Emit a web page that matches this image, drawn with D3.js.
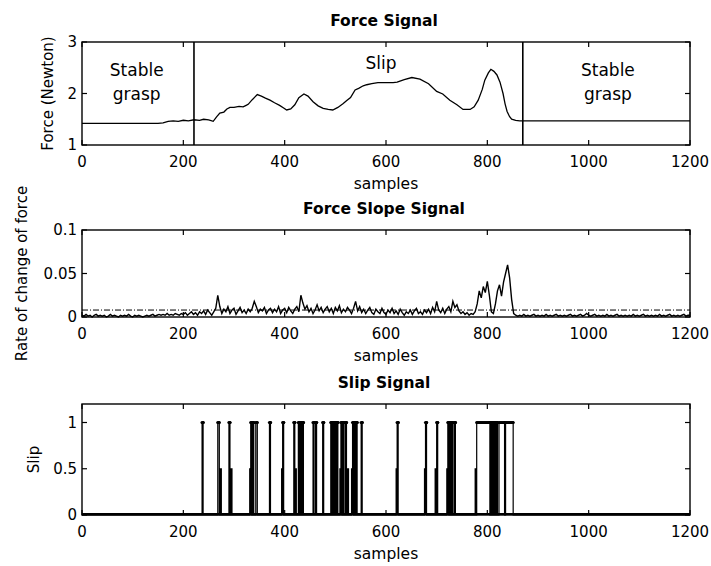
<!DOCTYPE html>
<html>
<head>
<meta charset="utf-8">
<script src="https://cdn.jsdelivr.net/npm/d3@7"></script>
<style>
  html, body { margin: 0; padding: 0; background: #fff; }
  svg { display: block; }
  text { font-family: "DejaVu Sans", sans-serif; fill: #000; }
</style>
</head>
<body>
<svg id="chart" width="711" height="566"></svg>
<script>
// ---- data ----
const xTicks = [0, 200, 400, 600, 800, 1000, 1200];

// grip force (N) against sample index
const forceSamples = [0, 100, 150, 160, 170, 180, 190, 200, 210, 221, 232, 240, 250, 259, 266, 272, 280, 286, 292, 300, 310, 318, 324, 328, 336, 346, 354, 362, 371, 380, 390, 398, 404, 412, 420, 428, 438, 446, 456, 466, 476, 486, 495, 505, 515, 522, 530, 539, 546, 555, 562, 572, 584, 600, 614, 622, 636, 651, 667, 684, 700, 712, 726, 740, 752, 766, 774, 782, 790, 795, 802, 807, 813, 819, 825, 831, 835, 839, 844, 848, 856, 864, 900, 1000, 1100, 1200];
const forceValues  = [1.42, 1.42, 1.42, 1.43, 1.46, 1.47, 1.46, 1.48, 1.47, 1.49, 1.48, 1.50, 1.49, 1.46, 1.55, 1.62, 1.64, 1.70, 1.73, 1.73, 1.75, 1.74, 1.77, 1.79, 1.88, 1.98, 1.95, 1.91, 1.87, 1.82, 1.77, 1.72, 1.68, 1.70, 1.78, 1.92, 1.99, 1.95, 1.84, 1.76, 1.71, 1.69, 1.68, 1.73, 1.80, 1.86, 1.92, 2.07, 2.10, 2.15, 2.17, 2.19, 2.21, 2.21, 2.21, 2.22, 2.27, 2.31, 2.28, 2.19, 2.04, 1.99, 1.87, 1.78, 1.69, 1.69, 1.74, 1.87, 2.08, 2.26, 2.40, 2.47, 2.43, 2.36, 2.22, 2.00, 1.80, 1.65, 1.55, 1.50, 1.48, 1.47, 1.47, 1.47, 1.47, 1.47];
const forceTicks = [1, 2, 3];
const phaseBoundaries = [221, 870];
const phaseLabels = [
  { s: 108, f: 2.46, text: "Stable" }, { s: 108, f: 1.99, text: "grasp" },
  { s: 590, f: 2.59, text: "Slip" },
  { s: 1038, f: 2.46, text: "Stable" }, { s: 1038, f: 1.99, text: "grasp" }
];

// rate of change of force, one value every 4 samples (0 .. 1200)
const slopeStep = 4;
const slopeValues = [
  0.002,0.001,0.003,0.001,0.002,0.000,0.002,0.003,0.001,0.002,
  0.001,0.002,0.000,0.001,0.003,0.001,0.002,0.001,0.000,0.002,
  0.001,0.002,0.001,0.003,0.001,0.000,0.002,0.001,0.002,0.001,
  0.000,0.001,0.002,0.001,0.002,0.003,0.001,0.002,0.003,0.002,
  0.003,0.002,0.004,0.002,0.003,0.002,0.004,0.003,0.002,0.004,
  0.003,0.005,0.002,0.004,0.006,0.003,0.005,0.002,0.006,0.004,
  0.007,0.003,0.008,0.005,0.002,0.006,0.010,0.025,0.012,0.004,
  0.009,0.006,0.012,0.004,0.008,0.010,0.003,0.007,0.011,0.005,
  0.008,0.004,0.009,0.006,0.010,0.018,0.012,0.005,0.009,0.007,
  0.011,0.004,0.008,0.010,0.005,0.009,0.006,0.012,0.004,0.008,
  0.010,0.005,0.011,0.007,0.004,0.009,0.012,0.006,0.025,0.016,
  0.009,0.013,0.006,0.010,0.004,0.008,0.014,0.007,0.011,0.005,
  0.009,0.012,0.006,0.010,0.004,0.011,0.007,0.013,0.005,0.009,
  0.006,0.011,0.008,0.004,0.010,0.018,0.007,0.012,0.005,0.009,
  0.004,0.008,0.011,0.005,0.003,0.009,0.006,0.004,0.010,0.005,
  0.003,0.008,0.005,0.010,0.004,0.007,0.003,0.009,0.005,0.002,
  0.006,0.004,0.008,0.003,0.007,0.010,0.004,0.006,0.003,0.008,
  0.005,0.009,0.004,0.011,0.006,0.018,0.008,0.005,0.010,0.004,
  0.009,0.012,0.006,0.018,0.011,0.014,0.007,0.004,0.006,0.003,
  0.005,0.002,0.004,0.003,0.006,0.015,0.030,0.022,0.035,0.028,
  0.041,0.025,0.006,0.004,0.015,0.030,0.037,0.024,0.040,0.050,
  0.060,0.045,0.020,0.004,0.002,0.001,0.002,0.001,0.003,0.001,
  0.002,0.001,0.002,0.003,0.001,0.002,0.001,0.002,0.001,0.003,
  0.001,0.002,0.001,0.002,0.003,0.001,0.002,0.001,0.002,0.001,
  0.002,0.003,0.001,0.002,0.001,0.002,0.003,0.001,0.002,0.004,
  0.002,0.001,0.002,0.003,0.001,0.002,0.001,0.002,0.001,0.003,
  0.001,0.002,0.001,0.002,0.003,0.001,0.002,0.001,0.002,0.001,
  0.002,0.001,0.003,0.001,0.002,0.001,0.002,0.003,0.001,0.002,
  0.001,0.002,0.001,0.002,0.001,0.003,0.001,0.002,0.001,0.002,
  0.003,0.001,0.002,0.001,0.002,0.001,0.002,0.003,0.001,0.002,
  0.002
];
const slopeThreshold = 0.008;
const slopeTicks = [0, 0.05, 0.1];

// slip detector output: intervals [start, end] at level 1 and at level 0.5
const slipFull = [
  [237,239],[268,271],[290,292],[333,335],[337,339],[343,346],[370,372],[396,398],
  [418,420],[427,429],[431,433],[435,437],[456,458],[461,463],[475,477],
  [491,493],[494,496],[497,499],[500,502],[503,505],[511,513],[515,517],[520,522],
  [534,536],[538,540],[541,543],[551,553],[622,624],[678,680],[700,702],
  [722,724],[726,728],[730,732],[735,737],[779,805],[806,808],[809,811],
  [812,814],[815,817],[818,820],[823,834],[836,851]
];
const slipHalf = [
  [273,275],[294,296],[331,333],[394,396],[421,423],[509,511],[524,526],
  [532,534],[620,622],[676,678],[697,699],[720,722],[776,778]
];
const slipTicks = [0, 0.5, 1];

// ---- layout ----
const svg = d3.select("#chart");
const X0 = 82, X1 = 690;
const panels = {
  force: { top: 42, bottom: 145 },
  slope: { top: 230, bottom: 317 },
  slip:  { top: 404, bottom: 515 }
};
const x = d3.scaleLinear().domain([0, 1200]).range([X0, X1]);

function frame(p, yScale, yTicks, yFmt, title, ylabel, ylabelX) {
  const g = svg.append("g");
  // inward ticks on all four sides, MATLAB-style box
  const tl = 5;
  g.selectAll(".xt").data(xTicks).join("line")
    .attr("x1", d => x(d)).attr("x2", d => x(d))
    .attr("y1", p.bottom).attr("y2", p.bottom - tl)
    .attr("stroke", "#000").attr("stroke-width", 1.2);
  g.selectAll(".xtt").data(xTicks).join("line")
    .attr("x1", d => x(d)).attr("x2", d => x(d))
    .attr("y1", p.top).attr("y2", p.top + tl)
    .attr("stroke", "#000").attr("stroke-width", 1.2);
  g.selectAll(".yt").data(yTicks).join("line")
    .attr("x1", X0).attr("x2", X0 + tl)
    .attr("y1", d => yScale(d)).attr("y2", d => yScale(d))
    .attr("stroke", "#000").attr("stroke-width", 1.2);
  g.selectAll(".ytr").data(yTicks).join("line")
    .attr("x1", X1).attr("x2", X1 - tl)
    .attr("y1", d => yScale(d)).attr("y2", d => yScale(d))
    .attr("stroke", "#000").attr("stroke-width", 1.2);
  g.append("rect")
    .attr("x", X0).attr("y", p.top)
    .attr("width", X1 - X0).attr("height", p.bottom - p.top)
    .attr("fill", "none").attr("stroke", "#000").attr("stroke-width", 1.4);
  // tick labels
  g.selectAll(".xl").data(xTicks).join("text")
    .attr("x", d => x(d)).attr("y", p.bottom + 22)
    .attr("text-anchor", "middle").attr("font-size", 15)
    .text(d => d);
  g.selectAll(".yl").data(yTicks).join("text")
    .attr("x", X0 - 5).attr("y", d => yScale(d) + 5)
    .attr("text-anchor", "end").attr("font-size", 15)
    .text(yFmt);
  // titles and axis labels
  g.append("text").attr("x", 384).attr("y", p.top - 16)
    .attr("text-anchor", "middle").attr("font-size", 15.5).attr("font-weight", "bold")
    .text(title);
  g.append("text").attr("x", 386).attr("y", p.bottom + 44)
    .attr("text-anchor", "middle").attr("font-size", 15.5)
    .text("samples");
  g.append("text")
    .attr("transform", `translate(${ylabelX},${(p.top + p.bottom) / 2}) rotate(-90)`)
    .attr("text-anchor", "middle").attr("font-size", 15)
    .text(ylabel);
  return g;
}

// ---- Force Signal ----
{
  const p = panels.force;
  const y = d3.scaleLinear().domain([1, 3]).range([p.bottom, p.top]);
  frame(p, y, forceTicks, d => d, "Force Signal", "Force (Newton)", 53);
  const line = d3.line().x(d => x(d[0])).y(d => y(d[1]));
  svg.append("path")
    .datum(forceSamples.map((s, i) => [s, forceValues[i]]))
    .attr("d", line).attr("fill", "none")
    .attr("stroke", "#000").attr("stroke-width", 1.3);
  svg.selectAll(".phase").data(phaseBoundaries).join("line")
    .attr("x1", d => x(d)).attr("x2", d => x(d))
    .attr("y1", p.top).attr("y2", p.bottom)
    .attr("stroke", "#000").attr("stroke-width", 1.6);
  svg.selectAll(".plabel").data(phaseLabels).join("text")
    .attr("x", d => x(d.s)).attr("y", d => y(d.f) + 6)
    .attr("text-anchor", "middle").attr("font-size", 17)
    .text(d => d.text);
}

// ---- Force Slope Signal ----
{
  const p = panels.slope;
  const y = d3.scaleLinear().domain([0, 0.1]).range([p.bottom, p.top]);
  frame(p, y, slopeTicks, d => d === 0 ? "0" : String(d), "Force Slope Signal", "Rate of change of force", 27);
  const line = d3.line().x(d => x(d[0])).y(d => y(d[1]));
  svg.append("path")
    .datum(slopeValues.map((v, i) => [i * slopeStep, v]))
    .attr("d", line).attr("fill", "none")
    .attr("stroke", "#000").attr("stroke-width", 1.4);
  svg.append("line")
    .attr("x1", x(0)).attr("x2", x(1200))
    .attr("y1", y(slopeThreshold)).attr("y2", y(slopeThreshold))
    .attr("stroke", "#000").attr("stroke-width", 1)
    .attr("stroke-dasharray", "6,2,1,2");
}

// ---- Slip Signal ----
{
  const p = panels.slip;
  const y = d3.scaleLinear().domain([0, 1.2]).range([p.bottom, p.top]);
  frame(p, y, slipTicks, d => d, "Slip Signal", "Slip", 39);
  const pulses = slipFull.map(d => [d[0], d[1], 1])
    .concat(slipHalf.map(d => [d[0], d[1], 0.5]))
    .sort((a, b) => a[0] - b[0]);
  const pts = [[0, 0]];
  pulses.forEach(([a, b, v]) => { pts.push([a, 0], [a, v], [b, v], [b, 0]); });
  pts.push([1200, 0]);
  const line = d3.line().x(d => x(d[0])).y(d => y(d[1]));
  svg.append("path").datum(pts)
    .attr("d", line).attr("fill", "none")
    .attr("stroke", "#000").attr("stroke-width", 1.2);
  const tops = [];
  slipFull.forEach(([a, b]) => {
    for (let s = a; s <= b; s += 2) tops.push(s);
    tops.push(b);
  });
  svg.selectAll(".slipdot").data(tops).join("circle")
    .attr("cx", d => x(d)).attr("cy", y(1)).attr("r", 1.6)
    .attr("fill", "#000");
  // the zero level is drawn heavy along the whole record
  svg.append("line")
    .attr("x1", x(0)).attr("x2", x(1200))
    .attr("y1", y(0) - 1).attr("y2", y(0) - 1)
    .attr("stroke", "#000").attr("stroke-width", 2);
}
</script>
</body>
</html>
